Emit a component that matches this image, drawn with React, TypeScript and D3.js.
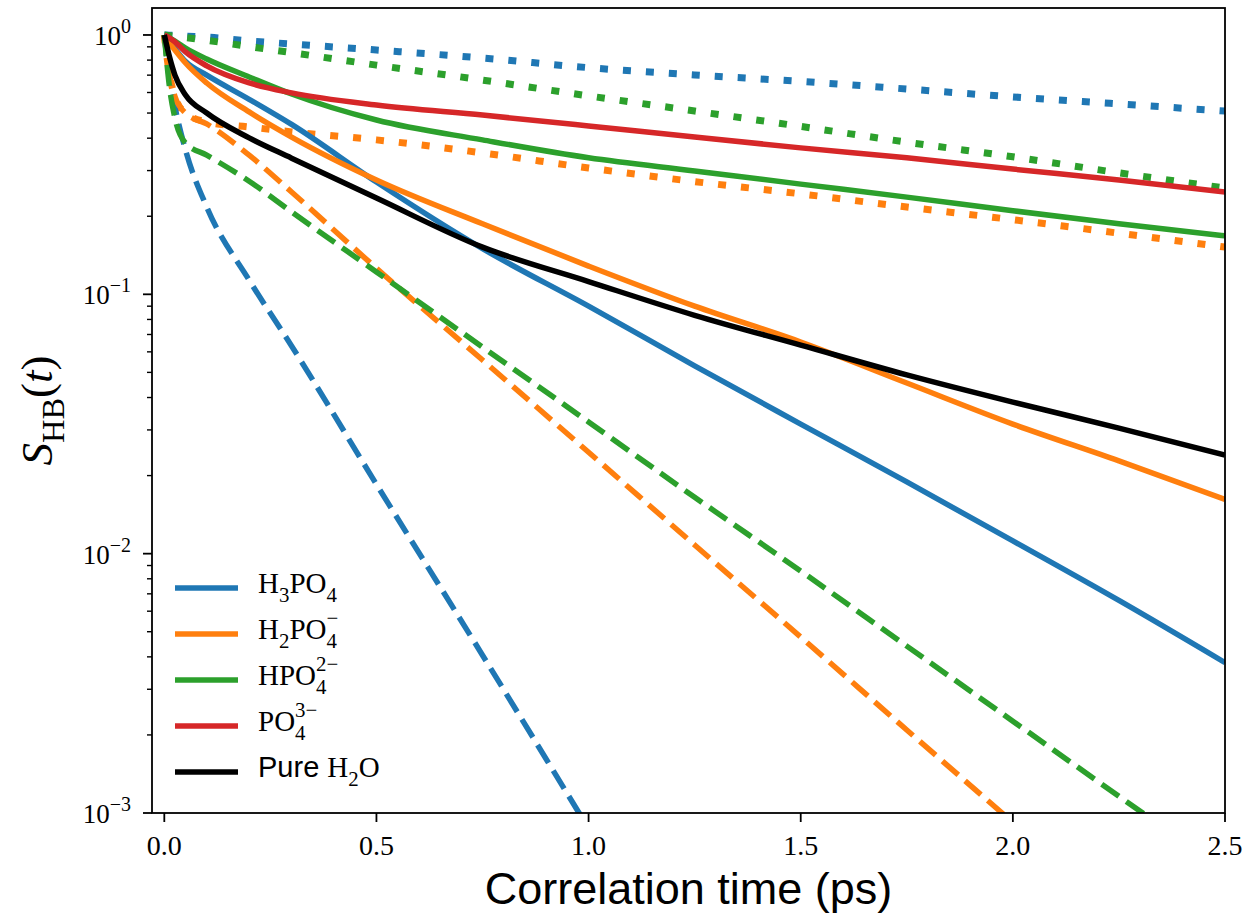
import React from "react";
import * as d3 from "d3";

const W = 1248;
const H = 913;
const X0 = 152, X1 = 1225, Y0 = 8, Y1 = 813;

// correlation time (ps)
const time = [0, 0.0125, 0.025, 0.05, 0.1, 0.2, 0.3, 0.5, 0.75, 1.0, 1.25, 1.5, 1.75, 2.0, 2.25, 2.5];

// solid curves
const h3po4 = [1, 0.94, 0.885, 0.79, 0.7, 0.565, 0.452, 0.271, 0.15, 0.09, 0.053, 0.0316, 0.0189, 0.0112, 0.0066, 0.0038];
const h2po4 = [1, 0.93, 0.875, 0.78, 0.653, 0.505, 0.404, 0.276, 0.187, 0.1285, 0.09, 0.0655, 0.0455, 0.0316, 0.0228, 0.0162];
const hpo4 = [1, 0.975, 0.948, 0.891, 0.808, 0.689, 0.592, 0.47, 0.394, 0.336, 0.299, 0.266, 0.237, 0.21, 0.187, 0.168];
const po4 = [1, 0.974, 0.94, 0.86, 0.76, 0.653, 0.598, 0.537, 0.491, 0.446, 0.404, 0.367, 0.336, 0.304, 0.276, 0.248];
const water = [1, 0.82, 0.7, 0.587, 0.5, 0.401, 0.335, 0.235, 0.152, 0.112, 0.083, 0.0637, 0.0489, 0.0384, 0.0305, 0.024];

// dashed curves
const h3po4Dashed = [1, 0.67, 0.528, 0.36, 0.217, 0.1135, 0.0632, 0.0185, 0.00406, 0.00087, null, null, null, null, null, null];
const h2po4Dashed = [1, 0.7, 0.58, 0.5, 0.454, 0.344, 0.248, 0.126, 0.0558, 0.0246, 0.0108, 0.00477, 0.00209, 0.00092, null, null];
const hpo4Dashed = [1, 0.625, 0.478, 0.383, 0.344, 0.273, 0.208, 0.122, 0.0626, 0.0322, 0.0165, 0.00857, 0.0044, 0.00226, 0.00116, 0.0006];

// dotted curves
const h3po4Dotted = [1, 0.998, 0.995, 0.99, 0.982, 0.948, 0.923, 0.875, 0.815, 0.748, 0.701, 0.662, 0.619, 0.577, 0.542, 0.509];
const h2po4Dotted = [1, 0.7, 0.58, 0.5, 0.462, 0.442, 0.423, 0.394, 0.351, 0.307, 0.272, 0.244, 0.217, 0.194, 0.172, 0.152];
const hpo4Dotted = [1, 0.994, 0.988, 0.978, 0.954, 0.902, 0.855, 0.765, 0.67, 0.582, 0.509, 0.444, 0.386, 0.339, 0.294, 0.257];

const xTicks = [0, 0.5, 1.0, 1.5, 2.0, 2.5];
const yTicks = [0, -1, -2, -3];

const BLUE = "#1f77b4", ORANGE = "#ff7f0e", GREEN = "#2ca02c", RED = "#d62728", BLACK = "#000000";

const DASHED = "21 9";
const DOTTED = "8 15";

const series = [
  { values: h3po4Dotted, color: BLUE, dash: DOTTED },
  { values: h2po4Dotted, color: ORANGE, dash: DOTTED },
  { values: hpo4Dotted, color: GREEN, dash: DOTTED },
  { values: h3po4Dashed, color: BLUE, dash: DASHED },
  { values: h2po4Dashed, color: ORANGE, dash: DASHED },
  { values: hpo4Dashed, color: GREEN, dash: DASHED },
  { values: h3po4, color: BLUE, dash: null },
  { values: h2po4, color: ORANGE, dash: null },
  { values: hpo4, color: GREEN, dash: null },
  { values: po4, color: RED, dash: null },
  { values: water, color: BLACK, dash: null },
];

type Seg = { s: string; k?: "sub" | "sup" | "over"; it?: boolean; sans?: boolean };

const legendItems: { color: string; label: Seg[] }[] = [
  { color: BLUE, label: [{ s: "H" }, { s: "3", k: "sub" }, { s: "PO" }, { s: "4", k: "sub" }] },
  { color: ORANGE, label: [{ s: "H" }, { s: "2", k: "sub" }, { s: "PO" }, { s: "4", k: "sub" }, { s: "\u2212", k: "over" }] },
  { color: GREEN, label: [{ s: "HPO" }, { s: "4", k: "sub" }, { s: "2\u2212", k: "over" }] },
  { color: RED, label: [{ s: "PO" }, { s: "4", k: "sub" }, { s: "3\u2212", k: "over" }] },
  { color: BLACK, label: [{ s: "Pure ", sans: true }, { s: "H" }, { s: "2", k: "sub" }, { s: "O" }] },
];

const SERIF = "'Liberation Serif', 'DejaVu Serif', serif";
const SANS = "'Liberation Sans', Arial, sans-serif";

function MathText({ segs, x, y, size, anchor = "start", transform, small = 0.72, up = 0.45, down = 0.27 }: { segs: Seg[]; x: number; y: number; size: number; anchor?: string; transform?: string; small?: number; up?: number; down?: number }) {
  let shift = 0;
  const sm = size * small;
  return (
    <text x={x} y={y} fontSize={size} fontFamily={SERIF} textAnchor={anchor} transform={transform} fill="#000">
      {segs.map((g, i) => {
        const target = g.k === "sub" ? size * down : g.k === "sup" || g.k === "over" ? -size * up : 0;
        const dy = target - shift;
        shift = target;
        const dx = g.k === "over" ? -sm * 0.5 : 0;
        return (
          <tspan key={i} dy={dy} dx={dx} fontSize={g.k ? sm : size} fontStyle={g.it ? "italic" : "normal"} fontFamily={g.sans ? SANS : SERIF}>
            {g.s}
          </tspan>
        );
      })}
    </text>
  );
}

export default function App() {
  const x = d3.scaleLinear().domain([-0.029, 2.5]).range([X0, X1]);
  const y = d3.scaleLog().domain([1e-3, Math.pow(10, 0.104)]).range([Y1, Y0]);

  const line = d3
    .line<[number, number | null]>()
    .defined((d) => d[1] != null)
    .x((d) => x(d[0]))
    .y((d) => y(d[1] as number))
    .curve(d3.curveMonotoneX);

  const minor: number[] = [];
  for (let e = -3; e <= 0; e++) {
    for (let m = 2; m <= 9; m++) {
      const v = m * Math.pow(10, e);
      if (v < y.domain()[1]) minor.push(v);
    }
  }

  return (
    <svg width={W} height={H} style={{ position: "absolute", left: 0, top: 0, background: "#fff" }}>
      <defs>
        <clipPath id="plot">
          <rect x={X0} y={Y0} width={X1 - X0} height={Y1 - Y0} />
        </clipPath>
      </defs>
      <rect width={W} height={H} fill="#fff" />

      <g clipPath="url(#plot)">
        {series.map((s, i) => (
          <path
            key={i}
            d={line(time.map((t, j) => [t, s.values[j]]) as [number, number | null][]) || ""}
            fill="none"
            stroke={s.color}
            strokeWidth={s.dash === DOTTED ? 7 : 5.5}
            strokeDasharray={s.dash || undefined}
            strokeLinejoin="round"
          />
        ))}
      </g>

      {/* frame */}
      <rect x={X0} y={Y0} width={X1 - X0} height={Y1 - Y0} fill="none" stroke="#000" strokeWidth={1.8} />

      {/* x axis */}
      {xTicks.map((t) => (
        <g key={t}>
          <line x1={x(t)} x2={x(t)} y1={Y1} y2={Y1 + 9} stroke="#000" strokeWidth={1.8} />
          <text x={x(t)} y={855} fontSize={28} fontFamily={SERIF} textAnchor="middle">
            {t.toFixed(1)}
          </text>
        </g>
      ))}

      {/* y axis */}
      {minor.map((v) => (
        <line key={v} x1={X0 - 5} x2={X0} y1={y(v)} y2={y(v)} stroke="#000" strokeWidth={1.4} />
      ))}
      {yTicks.map((e) => (
        <g key={e}>
          <line x1={X0 - 9} x2={X0} y1={y(Math.pow(10, e))} y2={y(Math.pow(10, e))} stroke="#000" strokeWidth={1.8} />
          <MathText
            x={131}
            y={y(Math.pow(10, e)) + 10}
            size={27}
            small={0.74}
            anchor="end"
            segs={[{ s: "10" }, { s: e === 0 ? "0" : "\u2212" + -e, k: "sup" }]}
          />
        </g>
      ))}

      {/* axis labels */}
      <text x={(X0 + X1) / 2} y={904} fontSize={45} fontFamily={SANS} textAnchor="middle">
        Correlation time (ps)
      </text>
      <MathText
        x={0}
        y={0}
        size={45}
        anchor="middle"
        transform={`translate(52, ${(Y0 + Y1) / 2}) rotate(-90)`}
        segs={[{ s: "S", it: true }, { s: "HB", k: "sub" }, { s: "(" }, { s: "t", it: true }, { s: ")" }]}
      />

      {/* legend */}
      {legendItems.map((item, i) => {
        const ly = 588 + i * 46;
        return (
          <g key={i}>
            <line x1={175} x2={238} y1={ly} y2={ly} stroke={item.color} strokeWidth={5.5} />
            <MathText x={258} y={ly + 5} size={29} small={0.72} up={0.5} down={0.3} segs={item.label} />
          </g>
        );
      })}
    </svg>
  );
}
